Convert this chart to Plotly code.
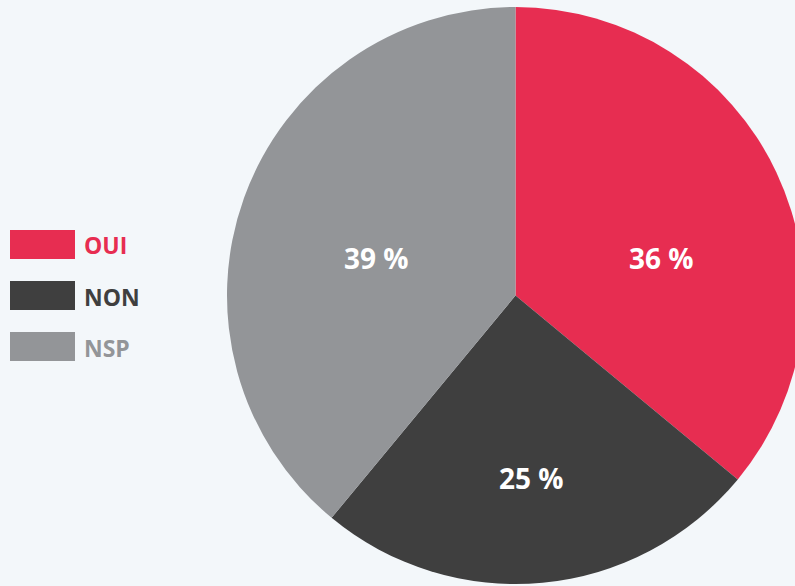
import plotly.graph_objects as go

labels = ["OUI", "NON", "NSP"]
values = [36, 25, 39]
colors = ["#e72d51", "#3f3f3f", "#939598"]
text_labels = ["36 %", "25 %", "39 %"]

W, H = 810, 586
MT, MB = 7, 2
PH = H - MT - MB

# pixel positions of the in-slice labels (layout, not data)
label_pos = [(661, 258), (531, 478), (376, 258)]


def px(x):
    return x / W


def py(y):
    return (H - MB - y) / PH


fig = go.Figure(go.Pie(
    labels=labels,
    values=values,
    textinfo="none",
    marker=dict(colors=colors, line=dict(width=0)),
    sort=False,
    direction="clockwise",
    rotation=0,
    domain=dict(x=[227 / W, 804 / W], y=[0, 1]),
    showlegend=False,
    hoverinfo="label+percent",
))

shapes = []
annotations = []
for i, (lab, col) in enumerate(zip(labels, colors)):
    top = 230 + i * 51
    shapes.append(dict(type="rect", xref="paper", yref="paper",
                       x0=px(10), x1=px(75), y0=py(top + 29), y1=py(top),
                       fillcolor=col, line=dict(width=0)))
    annotations.append(dict(xref="paper", yref="paper", x=px(82), y=py(top + 15.5),
                            xanchor="left", yanchor="middle", showarrow=False,
                            text="<b>" + lab + "</b>",
                            font=dict(family="Open Sans", size=23, color=col)))

for t, (x, y) in zip(text_labels, label_pos):
    annotations.append(dict(xref="paper", yref="paper", x=px(x), y=py(y),
                            xanchor="center", yanchor="middle", showarrow=False,
                            text="<b>" + t + "</b>",
                            font=dict(family="Open Sans", size=28, color="white")))

fig.update_layout(
    width=W, height=H,
    margin=dict(l=0, r=0, t=MT, b=MB),
    paper_bgcolor="#f3f7fa",
    plot_bgcolor="#f3f7fa",
    shapes=shapes,
    annotations=annotations,
)

fig.write_html("out.html", post_script="document.body.style.overflow='hidden';document.body.style.margin='0';document.documentElement.style.overflow='hidden';")
